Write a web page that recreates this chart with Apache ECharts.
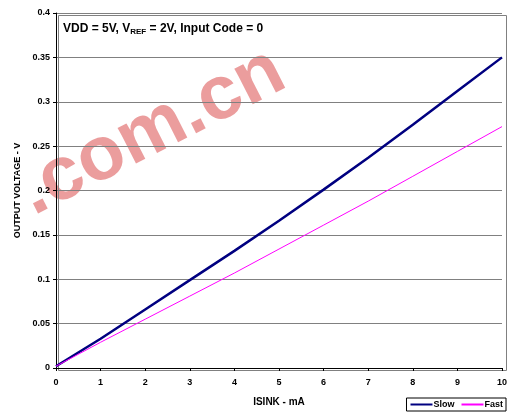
<!DOCTYPE html>
<html>
<head>
<meta charset="utf-8">
<script src="https://cdn.jsdelivr.net/npm/echarts@6/dist/echarts.min.js"></script>
<style>
  html, body { margin: 0; padding: 0; background: #fff; }
  #chart { width: 510px; height: 412px; }
</style>
</head>
<body>
<div id="chart"></div>
<script>
// Sink current (mA) and output voltage (V) for the two output modes
const isinkMA = [0, 1, 2, 3, 4, 5, 6, 7, 8, 9, 10];
const slowV = [0.002, 0.033, 0.066, 0.099, 0.132, 0.166, 0.201, 0.237, 0.274, 0.312, 0.350];
const fastV = [0.002, 0.029, 0.055, 0.081, 0.107, 0.134, 0.161, 0.188, 0.216, 0.244, 0.272];
const seriesNames = ['Slow', 'Fast'];
const yTickLabels = ['0', '0.05', '0.1', '0.15', '0.2', '0.25', '0.3', '0.35', '0.4'];

const font = '"Liberation Sans", Arial, sans-serif';
const pairs = (xs, ys) => xs.map((x, i) => [x, ys[i]]);

const chart = echarts.init(document.getElementById('chart'), null, { renderer: 'canvas' });
chart.setOption({
  backgroundColor: '#ffffff',
  animation: false,
  grid: { left: 56, right: 6, top: 13, bottom: 44 },
  xAxis: {
    type: 'value', min: 0, max: 10, interval: 1,
    name: 'ISINK - mA', nameLocation: 'middle', nameGap: 29,
    nameTextStyle: { fontFamily: font, fontWeight: 'bold', fontSize: 10, color: '#000' },
    axisLine: { show: true, lineStyle: { color: '#000', width: 1 } },
    axisTick: { show: true, length: 3, lineStyle: { color: '#000' } },
    axisLabel: { fontFamily: font, fontWeight: 'bold', fontSize: 9, color: '#000', margin: 10 },
    splitLine: { show: false }
  },
  yAxis: {
    type: 'value', min: 0, max: 0.4, interval: 0.05,
    name: 'OUTPUT VOLTAGE - V', nameLocation: 'middle', nameGap: 34,
    nameTextStyle: { fontFamily: font, fontWeight: 'bold', fontSize: 9, color: '#000' },
    axisLine: { show: true, lineStyle: { color: '#000', width: 1 } },
    axisTick: { show: true, length: 3, lineStyle: { color: '#000' } },
    axisLabel: {
      fontFamily: font, fontWeight: 'bold', fontSize: 9, color: '#000', margin: 6,
      formatter: (v) => yTickLabels[Math.round(v / 0.05)]
    },
    splitLine: { show: true, lineStyle: { color: '#808080', width: 1 } }
  },
  legend: {
    data: seriesNames,
    right: 4, bottom: 1,
    itemWidth: 22, itemHeight: 8, itemGap: 6,
    padding: [2, 3, 2, 3],
    borderColor: '#000', borderWidth: 1, borderRadius: 0,
    itemStyle: { opacity: 0 },
    textStyle: { fontFamily: font, fontWeight: 'bold', fontSize: 9, color: '#000', padding: [0, 0, 0, -4] }
  },
  graphic: [
    {
      type: 'rect', left: 56, top: 13, silent: true, z: 0,
      shape: { width: 448, height: 355 },
      style: { fill: 'none', stroke: '#808080', lineWidth: 1 }
    },
    {
      type: 'text', x: 152, y: 132, rotation: 0.47, z: -1, silent: true,
      style: {
        text: '.com.cn', fontFamily: font, fontWeight: 'bold', fontSize: 76,
        fill: 'rgba(215, 60, 60, 0.5)', align: 'center', verticalAlign: 'middle'
      }
    },
    {
      type: 'text', left: 63, top: 23, z: 10,
      style: {
        text: '{b|VDD = 5V, V}{s|REF}{b| = 2V, Input Code = 0}',
        rich: {
          b: { fontFamily: font, fontWeight: 'bold', fontSize: 12, fill: '#000' },
          s: { fontFamily: font, fontWeight: 'bold', fontSize: 8, fill: '#000', padding: [6, 0, 0, 0] }
        }
      }
    }
  ],
  series: [
    {
      name: seriesNames[0], type: 'line', data: pairs(isinkMA, slowV),
      showSymbol: false, symbol: 'none', smooth: false,
      lineStyle: { color: '#000080', width: 2.5 }, itemStyle: { color: '#000080' }, z: 3
    },
    {
      name: seriesNames[1], type: 'line', data: pairs(isinkMA, fastV),
      showSymbol: false, symbol: 'none', smooth: false,
      lineStyle: { color: '#ff00ff', width: 1 }, itemStyle: { color: '#ff00ff' }, z: 4
    }
  ]
});
</script>
</body>
</html>
